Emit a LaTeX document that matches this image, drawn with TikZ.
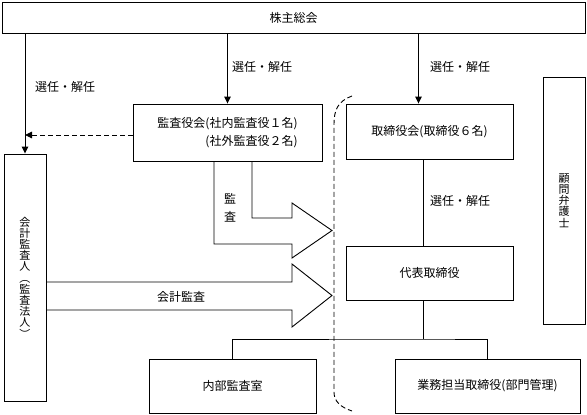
\documentclass[tikz,border=0pt]{standalone}
\usepackage{fontspec}
\setmainfont{Noto Sans CJK JP}
\usetikzlibrary{arrows.meta,calc}
\begin{document}
\begin{tikzpicture}[x=1pt,y=-1pt,
  every node/.style={font=\fontsize{12}{12}\selectfont, text=black},
  box/.style={draw, line width=0.9pt, inner sep=0pt},
  arr/.style={-{Triangle[length=7pt,width=6.5pt]}, line width=0.9pt},
  ln/.style={line width=0.9pt},
  lbl/.style={inner sep=0pt},
  vbox/.style={box, align=center, font=\fontsize{11}{11.2}\selectfont},
  bigarrow/.style={line width=0.9pt, line join=miter},
  sep/.style={line width=0.9pt, dash pattern=on 5pt off 3pt}
]
\useasboundingbox (0,0) rectangle (587,415);

% boxes
\node[box, minimum width=583pt, minimum height=31pt] (soukai) at (293.5,17.5) {株主総会};
\node[box, minimum width=189pt, minimum height=57pt, align=right,
      font=\fontsize{12}{18}\selectfont] (kansa) at (227.5,132.5)
      {監査役会(社内監査役１名)\\(社外監査役２名)};
\node[box, minimum width=167pt, minimum height=55pt] (tori) at (429.5,131.5) {取締役会(取締役６名)};
\node[vbox, minimum width=42pt, minimum height=247pt] (komon) at (564,200.5) {顧\\問\\弁\\護\\士};
\node[box, minimum width=167pt, minimum height=54pt] (daihyo) at (429.5,273) {代表取締役};
\node[vbox, minimum width=42pt, minimum height=247pt] (kaikei) at (25,277.5)
      {会\\計\\監\\査\\人\\︵\\監\\査\\法\\人\\︶};
\node[box, minimum width=167pt, minimum height=54pt] (naibu) at (232.5,386) {内部監査室};
\node[box, minimum width=185pt, minimum height=54pt] (gyomu) at (487.5,386) {業務担当取締役(部門管理)};

% arrows from shareholders meeting
\draw[arr] (soukai.south -| kaikei.north) -- (kaikei.north);
\draw[arr] (soukai.south -| kansa.north) -- (kansa.north);
\coordinate (toriIn) at ($(tori.north)+(-11,0)$);
\draw[arr] (soukai.south -| toriIn) -- (toriIn);

\node[lbl] (l1) at (65,87) {選任・解任};
\node[lbl] (l2) at (262,67) {選任・解任};
\node[lbl] (l3) at (460,67) {選任・解任};

% dashed arrow kansa -> kaikei line
\coordinate (dstart) at ($(kansa.west)+(0,2.5)$);
\draw[arr, dash pattern=on 5pt off 3pt] (dstart) -- (dstart -| kaikei.north);

% tori -> daihyo
\coordinate (tdx) at ($(tori.south)+(-6,0)$);
\draw[ln] (tdx) -- (tdx |- daihyo.north);
\node[lbl] (l4) at (460,201) {選任・解任};

% tree
\coordinate (bus) at (0,339);
\draw[ln] (tdx |- daihyo.south) -- (tdx |- bus);
\draw[ln] (naibu.north) |- (tdx |- bus) -| (gyomu.north);

% big arrows
\draw[bigarrow] (214,161) -- (214,244) -- (292,244) -- (292,258) -- (332,230.5)
  -- (292,203) -- (292,218) -- (252,218) -- (252,161);
\node[lbl, align=center, font=\fontsize{12}{18}\selectfont] (kansaLbl) at (230,208) {監\\査};

\draw[bigarrow] (46,282) -- (292,282) -- (292,264) -- (332,295.5) -- (292,327)
  -- (292,310) -- (46,310);
\node[lbl] (kaikeiLbl) at (181,297) {会計監査};

% separator curve
\draw[sep] (352,96) .. controls (338,101) and (334,110) .. (334,124) -- (334,392)
  .. controls (334,401) and (340,407) .. (352,411);
\end{tikzpicture}
\end{document}
